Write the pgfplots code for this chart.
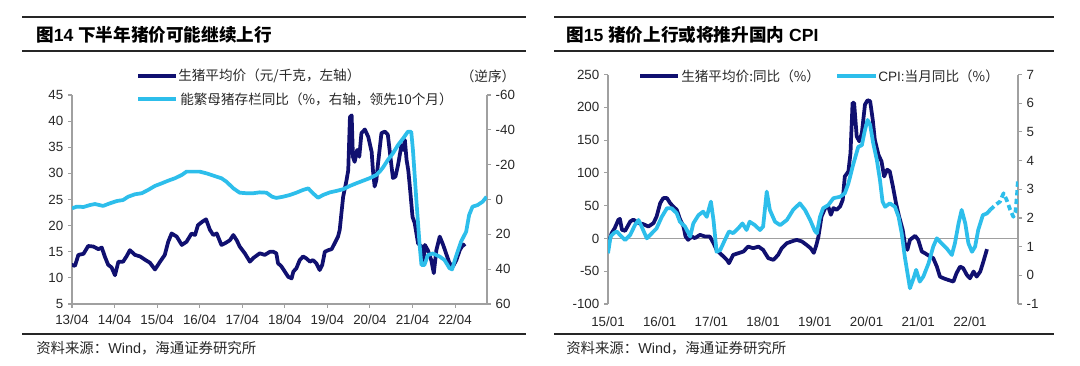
\documentclass[border=0pt]{standalone}
\usepackage{fontspec}
\setmainfont{Liberation Sans}
\newfontfamily\cjk{Noto Sans CJK SC}
\usepackage{pgfplots}
\pgfplotsset{compat=1.18}
\definecolor{navy}{RGB}{16,16,112}
\definecolor{cyanl}{RGB}{45,190,235}
\definecolor{axgray}{RGB}{160,160,160}
\definecolor{txt}{RGB}{40,40,40}
\pgfplotsset{
  common/.style={
    scale only axis, anchor=south west,
    axis line style={-, draw=axgray, line width=0.8pt},
    tick style={draw=axgray, line width=0.8pt},
    major tick length=3pt, tick align=outside,
    tick label style={font=\fontsize{10}{11}\selectfont, text=txt},
    xtick pos=bottom,
  }
}
\begin{document}
\begin{tikzpicture}
\useasboundingbox (0,0) rectangle (810pt,274.5pt);
\fill[white] (0,0) rectangle (810pt,274.5pt);

% ---------------- LEFT PANEL ----------------
\begin{axis}[common, at={(54pt,46.5pt)}, width=311.25pt, height=156.75pt,
  xmin=2013.25, xmax=2023, ymin=5, ymax=45,
  axis x line*=bottom, axis y line*=left,
  xtick={2013.25,2014.25,2015.25,2016.25,2017.25,2018.25,2019.25,2020.25,2021.25,2022.25},
  xticklabels={13/04,14/04,15/04,16/04,17/04,18/04,19/04,20/04,21/04,22/04},
  xticklabel style={yshift=-1.5pt},
  ytick={5,10,15,20,25,30,35,40,45},
  yticklabels={5,10,15,20,25,30,35,40,45}]
\addplot[navy, line width=2.8pt, line join=round] coordinates {
(2013.24,12.5)(2013.32,12.3)(2013.40,14.4)(2013.52,14.6)(2013.63,16.1)(2013.75,16.0)
(2013.87,15.5)(2013.95,15.8)(2014.02,14.1)(2014.10,12.5)(2014.18,12.0)(2014.26,10.5)
(2014.34,13.1)(2014.45,13.1)(2014.53,14.1)(2014.61,15.3)(2014.73,14.4)(2014.85,14.1)
(2014.96,13.5)(2015.08,12.9)(2015.20,11.6)(2015.32,13.1)(2015.43,14.4)(2015.51,16.9)
(2015.59,18.5)(2015.71,17.9)(2015.83,16.3)(2015.94,16.9)(2016.06,18.5)(2016.14,18.2)
(2016.21,20.1)(2016.32,20.8)(2016.40,21.2)(2016.49,19.2)(2016.57,18.2)(2016.65,18.5)
(2016.76,16.3)(2016.84,16.6)(2016.96,17.2)(2017.04,18.2)(2017.12,17.2)(2017.19,16.0)
(2017.31,14.7)(2017.43,13.1)(2017.51,13.8)(2017.66,14.7)(2017.78,14.4)(2017.90,15.0)
(2017.98,15.0)(2018.05,14.7)(2018.09,12.8)(2018.17,12.2)(2018.25,11.2)(2018.33,10.2)
(2018.41,9.9)(2018.45,11.2)(2018.52,11.8)(2018.60,13.4)(2018.68,14.1)(2018.76,13.7)
(2018.84,13.1)(2018.91,13.4)(2018.99,12.8)(2019.07,11.5)(2019.13,12.5)(2019.19,15.0)
(2019.27,15.3)(2019.35,15.5)(2019.42,16.6)(2019.50,17.9)(2019.54,19.2)(2019.58,22.4)
(2019.62,25.5)(2019.70,28.7)(2019.74,30.6)(2019.78,40.8)(2019.82,41.1)(2019.85,33.2)
(2019.89,32.2)(2019.95,34.5)(2020.00,33.2)(2020.05,37.7)(2020.13,38.4)(2020.21,37.0)
(2020.29,34.1)(2020.32,30.6)(2020.36,27.5)(2020.40,28.7)(2020.44,31.9)(2020.52,37.7)
(2020.60,38.0)(2020.67,37.4)(2020.73,33.2)(2020.79,29.1)(2020.85,29.4)(2020.91,31.6)
(2020.99,35.4)(2021.03,34.5)(2021.07,36.4)(2021.11,32.6)(2021.15,30.6)(2021.18,28.1)
(2021.25,21.7)(2021.30,20.5)(2021.38,16.6)(2021.46,16.0)(2021.50,12.8)(2021.54,16.3)
(2021.61,15.3)(2021.69,13.4)(2021.75,10.9)(2021.81,15.3)(2021.89,17.9)(2021.97,16.3)
(2022.05,14.4)(2022.12,12.8)(2022.20,12.2)(2022.28,13.4)(2022.36,15.3)(2022.44,16.4)
(2022.48,16.0)};
\end{axis}
\begin{axis}[common, at={(54pt,46.5pt)}, width=311.25pt, height=156.75pt,
  xmin=2013.25, xmax=2023, ymin=-60, ymax=60, y dir=reverse,
  axis x line=none, axis y line*=right,
  ytick={-60,-40,-20,0,20,40,60},
  yticklabels={-60,-40,-20,0,20,40,60}]
\addplot[cyanl, line width=2.8pt, line join=round] coordinates {
(2013.25,5.1)(2013.36,4.1)(2013.52,4.3)(2013.67,3.2)(2013.79,2.6)(2013.98,3.7)
(2014.14,2.2)(2014.30,0.9)(2014.45,0.3)(2014.57,-1.6)(2014.73,-3.0)(2014.89,-3.6)
(2015.04,-5.5)(2015.20,-7.8)(2015.36,-9.3)(2015.51,-10.8)(2015.67,-12.2)(2015.83,-14.1)
(2015.94,-16.0)(2016.10,-16.0)(2016.25,-16.0)(2016.41,-15.0)(2016.57,-13.7)(2016.76,-12.2)
(2016.88,-10.2)(2017.04,-6.4)(2017.19,-3.9)(2017.35,-3.6)(2017.51,-3.6)(2017.66,-4.1)
(2017.82,-3.9)(2017.95,-1.6)(2018.05,-0.9)(2018.21,-1.6)(2018.37,-2.6)(2018.52,-3.9)
(2018.68,-5.5)(2018.80,-6.4)(2018.91,-3.6)(2019.03,-1.0)(2019.15,-2.6)(2019.31,-4.1)
(2019.46,-4.9)(2019.62,-5.9)(2019.78,-7.8)(2019.93,-9.3)(2020.09,-10.8)(2020.24,-12.2)
(2020.40,-14.1)(2020.48,-16.0)(2020.56,-18.5)(2020.67,-22.7)(2020.79,-26.5)(2020.91,-31.3)
(2021.03,-35.1)(2021.14,-38.9)(2021.22,-38.9)(2021.26,-28.4)(2021.34,0.3)(2021.42,27.1)
(2021.46,37.6)(2021.53,37.6)(2021.61,31.9)(2021.73,31.0)(2021.89,32.8)(2022.00,34.7)
(2022.12,39.5)(2022.18,40.1)(2022.27,32.8)(2022.39,24.2)(2022.51,18.5)(2022.58,8.9)
(2022.66,4.1)(2022.78,3.2)(2022.90,1.2)(2022.99,-1.6)};
\end{axis}

% ---------------- RIGHT PANEL ----------------
\begin{axis}[common, at={(456pt,46.5pt)}, width=307.5pt, height=172.05pt,
  xmin=2015, xmax=2022.93, ymin=-100, ymax=250,
  axis x line*=bottom, axis y line*=left,
  x axis line style={draw=none}, xtick style={draw=none},
  xtick={2015,2016,2017,2018,2019,2020,2021,2022},
  xticklabels={15/01,16/01,17/01,18/01,19/01,20/01,21/01,22/01},
  xticklabel style={yshift=-3pt},
  ytick={-100,-50,0,50,100,150,200,250},
  yticklabels={-100,-50,0,50,100,150,200,250}]
\draw[axgray, line width=0.8pt] (axis cs:2015,0) -- (axis cs:2022.93,0);
\addplot[navy, line width=2.8pt, line join=round] coordinates {
(2015.01,-7.2)(2015.07,8.1)(2015.13,15.7)(2015.20,28.4)(2015.23,29.9)(2015.27,13.1)
(2015.33,11.6)(2015.43,25.8)(2015.49,28.8)(2015.59,23.4)(2015.68,21.9)(2015.78,18.2)
(2015.88,23.4)(2015.94,33.5)(2016.01,54.0)(2016.07,61.6)(2016.14,61.6)(2016.20,54.0)
(2016.26,48.8)(2016.33,43.7)(2016.39,29.9)(2016.46,18.2)(2016.50,2.9)(2016.55,-2.1)
(2016.62,2.9)(2016.68,0.5)(2016.78,5.5)(2016.88,2.9)(2016.97,2.9)(2017.04,-7.2)
(2017.10,-17.4)(2017.20,-25.1)(2017.30,-32.7)(2017.34,-37.8)(2017.42,-25.1)(2017.52,-22.5)
(2017.62,-19.9)(2017.71,-12.4)(2017.81,-14.9)(2017.91,-12.4)(2018.00,-17.4)(2018.10,-30.1)
(2018.20,-32.7)(2018.29,-25.1)(2018.36,-14.9)(2018.46,-7.2)(2018.55,-4.6)(2018.65,-2.1)
(2018.75,-4.6)(2018.84,-9.8)(2018.92,-15.0)(2018.98,-22.0)(2019.03,-10.0)(2019.07,2.9)
(2019.13,33.5)(2019.20,46.3)(2019.26,48.8)(2019.31,36.1)(2019.36,46.3)(2019.42,43.7)
(2019.49,48.8)(2019.54,59.0)(2019.58,94.6)(2019.65,102.3)(2019.69,130.4)(2019.73,206.9)
(2019.76,206.9)(2019.81,155.8)(2019.86,148.2)(2019.91,161.0)(2019.97,204.3)(2020.02,210.9)
(2020.07,209.4)(2020.12,181.3)(2020.16,150.8)(2020.23,127.8)(2020.29,117.6)(2020.34,94.6)
(2020.40,104.9)(2020.45,102.3)(2020.51,79.4)(2020.57,54.0)(2020.63,33.5)(2020.70,13.1)
(2020.74,-7.2)(2020.79,-17.4)(2020.84,-2.1)(2020.94,4.0)(2021.00,-2.1)(2021.07,-20.0)
(2021.13,-22.5)(2021.23,-27.6)(2021.29,-30.1)(2021.36,-42.9)(2021.42,-58.2)(2021.49,-60.8)
(2021.58,-63.3)(2021.68,-65.8)(2021.74,-53.1)(2021.81,-42.9)(2021.87,-45.4)(2021.94,-55.6)
(2022.00,-60.8)(2022.07,-50.5)(2022.13,-58.2)(2022.20,-50.5)(2022.26,-35.3)(2022.33,-16.4)};
\end{axis}
\begin{axis}[common, at={(456pt,46.5pt)}, width=307.5pt, height=172.05pt,
  xmin=2015, xmax=2022.93, ymin=-1, ymax=7,
  axis x line=none, axis y line*=right,
  ytick={-1,0,1,2,3,4,5,6,7},
  yticklabels={-1,0,1,2,3,4,5,6,7}]
\addplot[cyanl, line width=2.8pt, line join=round] coordinates {
(2015.00,0.77)(2015.05,1.35)(2015.11,1.47)(2015.17,1.53)(2015.23,1.41)(2015.33,1.23)
(2015.43,1.41)(2015.52,1.75)(2015.59,1.93)(2015.65,1.70)(2015.75,1.29)(2015.85,1.47)
(2015.94,1.64)(2016.04,2.04)(2016.14,2.34)(2016.23,2.34)(2016.33,2.16)(2016.39,1.87)
(2016.49,1.70)(2016.59,1.35)(2016.65,1.81)(2016.75,2.10)(2016.84,2.22)(2016.91,2.04)
(2016.99,2.57)(2017.04,1.93)(2017.10,0.82)(2017.17,0.88)(2017.26,1.23)(2017.34,1.53)
(2017.42,1.47)(2017.52,1.64)(2017.60,1.81)(2017.68,1.58)(2017.74,1.87)(2017.84,1.75)
(2017.94,1.58)(2018.00,1.70)(2018.07,2.92)(2018.13,2.28)(2018.23,1.87)(2018.33,1.75)
(2018.46,1.93)(2018.58,2.28)(2018.71,2.51)(2018.81,2.28)(2018.91,1.93)(2019.00,1.55)
(2019.04,1.47)(2019.10,2.04)(2019.16,2.34)(2019.26,2.45)(2019.36,2.69)(2019.49,2.74)
(2019.58,2.86)(2019.65,3.21)(2019.74,3.85)(2019.84,4.48)(2019.91,4.54)(2019.97,5.07)
(2020.02,5.42)(2020.07,5.25)(2020.13,4.60)(2020.20,4.02)(2020.26,3.32)(2020.31,2.57)
(2020.36,2.39)(2020.45,2.51)(2020.55,2.39)(2020.62,2.04)(2020.68,1.47)(2020.74,0.65)
(2020.84,-0.45)(2020.91,-0.10)(2020.96,0.19)(2021.03,-0.22)(2021.10,-0.04)(2021.20,0.42)
(2021.29,1.00)(2021.36,1.29)(2021.45,1.12)(2021.55,0.94)(2021.65,0.71)(2021.71,1.12)
(2021.78,1.81)(2021.84,2.28)(2021.91,1.81)(2021.97,1.12)(2022.04,0.82)(2022.10,1.00)
(2022.16,1.58)(2022.25,2.10)(2022.33,2.16)(2022.39,2.28)};
\addplot[cyanl, line width=2.8pt, line join=round, dash pattern=on 4pt off 2.5pt] coordinates {
(2022.39,2.28)(2022.49,2.45)(2022.58,2.57)(2022.65,2.86)(2022.71,2.63)(2022.78,2.28)
(2022.84,2.04)(2022.88,2.20)(2022.91,2.80)(2022.93,3.38)};
\end{axis}

% ---------------- FRAME, TITLES, LEGENDS ----------------
\begin{scope}[x=0.75pt, y=-0.75pt, shift={(0pt,274.5pt)}]
\foreach \yy in {17,51,334}{
  \draw[line width=1.5pt, black!85] (22,\yy) -- (526,\yy);
  \draw[line width=1.5pt, black!85] (554,\yy) -- (1054,\yy);
}
\node[anchor=west, inner sep=0, font=\fontsize{13.2}{14}\selectfont] at (36,35)
  {{\cjk\bfseries 图}\textbf{14} {\cjk\bfseries 下半年猪价可能继续上行}};
\node[anchor=west, inner sep=0, font=\fontsize{13.2}{14}\selectfont] at (566,35)
  {{\cjk\bfseries 图}\textbf{15} {\cjk\bfseries 猪价上行或将推升国内} \textbf{CPI}};
\node[anchor=west, inner sep=0, font=\fontsize{10.8}{12}\selectfont, text=txt] at (36,348)
  {{\cjk 资料来源：}Wind{\cjk ，海通证券研究所}};
\node[anchor=west, inner sep=0, font=\fontsize{10.8}{12}\selectfont, text=txt] at (566,348)
  {{\cjk 资料来源：}Wind{\cjk ，海通证券研究所}};
% left legend
\draw[navy, line width=3pt] (138,76) -- (176,76);
\node[anchor=west, inner sep=0, font=\cjk\fontsize{10.2}{11}\selectfont, text=txt] at (178,76)
  {生猪平均价（元/千克，左轴）};
\draw[cyanl, line width=3pt] (138,99) -- (176,99);
\node[anchor=west, inner sep=0, font=\cjk\fontsize{10.2}{11}\selectfont, text=txt] at (180,99)
  {能繁母猪存栏同比（\%，右轴，领先10个月）};
\node[anchor=center, inner sep=0, font=\cjk\fontsize{10.2}{11}\selectfont, text=txt] at (488,76)
  {（逆序）};
% right legend
\draw[navy, line width=3pt] (640,76) -- (678,76);
\node[anchor=west, inner sep=0, font=\cjk\fontsize{10.2}{11}\selectfont, text=txt] at (681,76)
  {生猪平均价:同比（\%）};
\draw[cyanl, line width=3pt] (837,76) -- (876,76);
\node[anchor=west, inner sep=0, font=\fontsize{10.2}{11}\selectfont, text=txt] at (878,76)
  {CPI:{\cjk 当月同比（\%）}};
\end{scope}
\end{tikzpicture}
\end{document}
